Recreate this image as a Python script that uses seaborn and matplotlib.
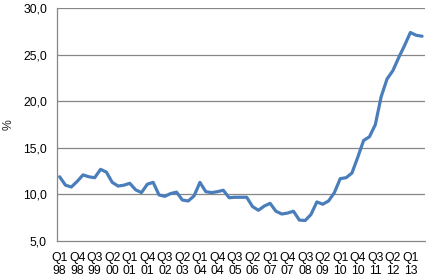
import matplotlib
matplotlib.use("Agg")
import matplotlib.pyplot as plt
import seaborn as sns
import pandas as pd
from matplotlib.ticker import FixedLocator, FuncFormatter

years = list(range(1998, 2014))
quarters = [f"Q{q} {str(y)[2:]}" for y in years for q in range(1, 5)][:63]

values = [11.9, 11.0, 10.8, 11.4, 12.1, 11.9, 11.8, 12.7, 12.4, 11.3,
          10.9, 11.0, 11.2, 10.5, 10.2, 11.1, 11.3, 9.95, 9.8, 10.1,
          10.25, 9.4, 9.3, 9.85, 11.3, 10.3, 10.2, 10.3, 10.45, 9.65,
          9.7, 9.7, 9.7, 8.7, 8.3, 8.75, 9.05, 8.2, 7.9, 8.0,
          8.2, 7.25, 7.2, 7.85, 9.2, 8.95, 9.3, 10.2, 11.7, 11.8,
          12.3, 14.0, 15.8, 16.2, 17.5, 20.5, 22.4, 23.3, 24.7, 26.0,
          27.4, 27.1, 27.0]

y_ticks = [5, 10, 15, 20, 25, 30]

df = pd.DataFrame({"pos": range(len(values)), "quarter": quarters, "value": values})

sns.set_style("white")
plt.rcParams['font.family'] = ['Liberation Sans', 'DejaVu Sans']

fig = plt.figure(figsize=(4.27, 2.78), dpi=100)
ax = fig.add_axes([56.7 / 427, 1 - 241 / 278, (425 - 56.7) / 427, (241 - 8.3) / 278])

sns.lineplot(data=df, x="pos", y="value", ax=ax, color="#4A7EBB", linewidth=2.3,
             solid_capstyle="round", solid_joinstyle="round")

ax.set_xlim(-0.5, len(values) - 0.5)
ax.set_ylim(5, 30)

grid_c = "#868686"
ax.set_yticks(y_ticks)
ax.yaxis.set_major_formatter(FuncFormatter(lambda v, p: f"{v:.1f}".replace(".", ",")))
for yv in y_ticks[1:]:
    ax.axhline(yv, color=grid_c, linewidth=0.9, zorder=0)

label_pos = list(range(0, len(values), 3))
ax.set_xticks(label_pos)
ax.set_xticklabels([quarters[i].replace(" ", "\n") for i in label_pos], linespacing=1.15)
ax.xaxis.set_minor_locator(FixedLocator([i - 0.5 for i in range(len(values) + 1)]))
ax.tick_params(axis="x", which="major", length=0, pad=8, labelsize=8.8, colors="black")
ax.tick_params(axis="x", which="minor", length=4, width=0.9, color=grid_c, direction="out")
ax.tick_params(axis="y", which="major", length=4, width=0.9, color=grid_c, labelsize=8.8,
               pad=3, labelcolor="black", direction="out")

for s in ["top", "right"]:
    ax.spines[s].set_visible(False)
for s in ["left", "bottom"]:
    ax.spines[s].set_color(grid_c)
    ax.spines[s].set_linewidth(0.9)

ax.set_xlabel("")
ax.set_ylabel("%", fontsize=8.8)
ax.yaxis.set_label_coords((15 - 56.7) / 368.3, (241 - 125) / 232.7)
ax.grid(False)

fig.savefig("out.png", dpi=100)
